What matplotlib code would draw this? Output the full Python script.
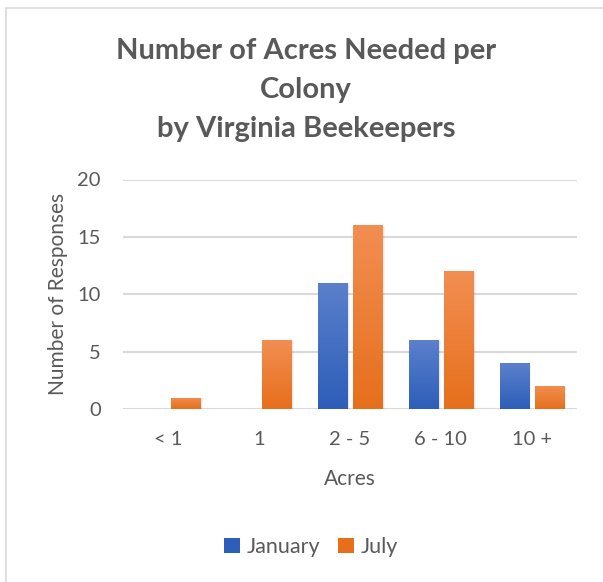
import numpy as np
import matplotlib
matplotlib.use("Agg")
import matplotlib.pyplot as plt
from matplotlib.patches import Rectangle, Patch
from matplotlib.colors import LinearSegmentedColormap

plt.rcParams['font.family'] = ['Lato', 'DejaVu Sans']

categories = ["< 1", "1", "2 - 5", "6 - 10", "10 +"]
january = [0, 0, 11, 6, 4]
july = [1, 6, 16, 12, 2]
series_names = ["January", "July"]
yticks = [0, 5, 10, 15, 20]

text_color = "#595959"
grid_color = "#D9D9D9"
blue_top, blue_bot = "#5B80CC", "#2D5EB9"
orange_top, orange_bot = "#F28E52", "#E66F1B"

fig = plt.figure(figsize=(6.03, 5.82), dpi=100)
W, H = 603, 582

# chart frame
fig.add_artist(Rectangle((6 / W, -0.1), 1.2, (1 - 8 / H) + 0.1, transform=fig.transFigure,
                         fill=False, edgecolor="#D9D9D9", linewidth=1.2))

ax = fig.add_axes([123 / W, 1 - 409 / H, (577 - 123) / W, (409 - 179.5) / H])

x = np.arange(len(categories))
bw = 0.32
off = 0.193

def grad_bars(xs, vals, top, bot):
    cmap = LinearSegmentedColormap.from_list("g", [bot, top])
    bars = ax.bar(xs, vals, width=bw, color=bot, zorder=3, linewidth=0)
    for b in bars:
        h = b.get_height()
        if h <= 0:
            continue
        for k, a in enumerate([0.06, 0.05, 0.04]):
            s = Rectangle((b.get_x() + 0.004 * (k + 1), -0.05 * (k + 1)), b.get_width() + 0.006 * (k + 1),
                          h + 0.03 * (k + 1), facecolor="black", alpha=a, linewidth=0, zorder=2.5)
            ax.add_patch(s)
        g = np.linspace(0, 1, 256).reshape(-1, 1)
        im = ax.imshow(g, cmap=cmap, origin="lower", aspect="auto",
                       extent=[b.get_x(), b.get_x() + b.get_width(), 0, h], zorder=3.1)
        im.set_clip_path(b)
    return bars

grad_bars(x - off, january, blue_top, blue_bot)
grad_bars(x + off, july, orange_top, orange_bot)

ax.set_xlim(-0.5, len(categories) - 0.5)
ax.set_ylim(0, 20)

ax.set_yticks(yticks)
ax.set_xticks(x)
ax.set_xticklabels(categories)
ax.yaxis.grid(True, color=grid_color, linewidth=1.5, zorder=0)
ax.set_axisbelow(True)
for s in ax.spines.values():
    s.set_visible(False)
ax.tick_params(axis="both", length=0, colors=text_color, labelsize=14.5)
ax.tick_params(axis="x", pad=16)
ax.tick_params(axis="y", pad=16)

ax.set_xlabel("Acres", color=text_color, fontsize=15, labelpad=15)
ax.set_ylabel("Number of Responses", color=text_color, fontsize=15, labelpad=7)

fig.text(306 / W, 1 - 90 / H, "Number of Acres Needed per\nColony\nby Virginia Beekeepers",
         ha="center", va="center", fontsize=21, fontweight="bold", color=text_color,
         linespacing=1.6)

handles = [Patch(facecolor=blue_bot, edgecolor="none"), Patch(facecolor=orange_bot, edgecolor="none")]
fig.legend(handles, series_names, loc="center", bbox_to_anchor=(311 / W, 1 - 547 / H),
           ncol=2, frameon=False, fontsize=15.5, labelcolor=text_color,
           handlelength=0.75, handleheight=0.75, handletextpad=0.3, columnspacing=0.85)

fig.savefig("out.png", dpi=100)
